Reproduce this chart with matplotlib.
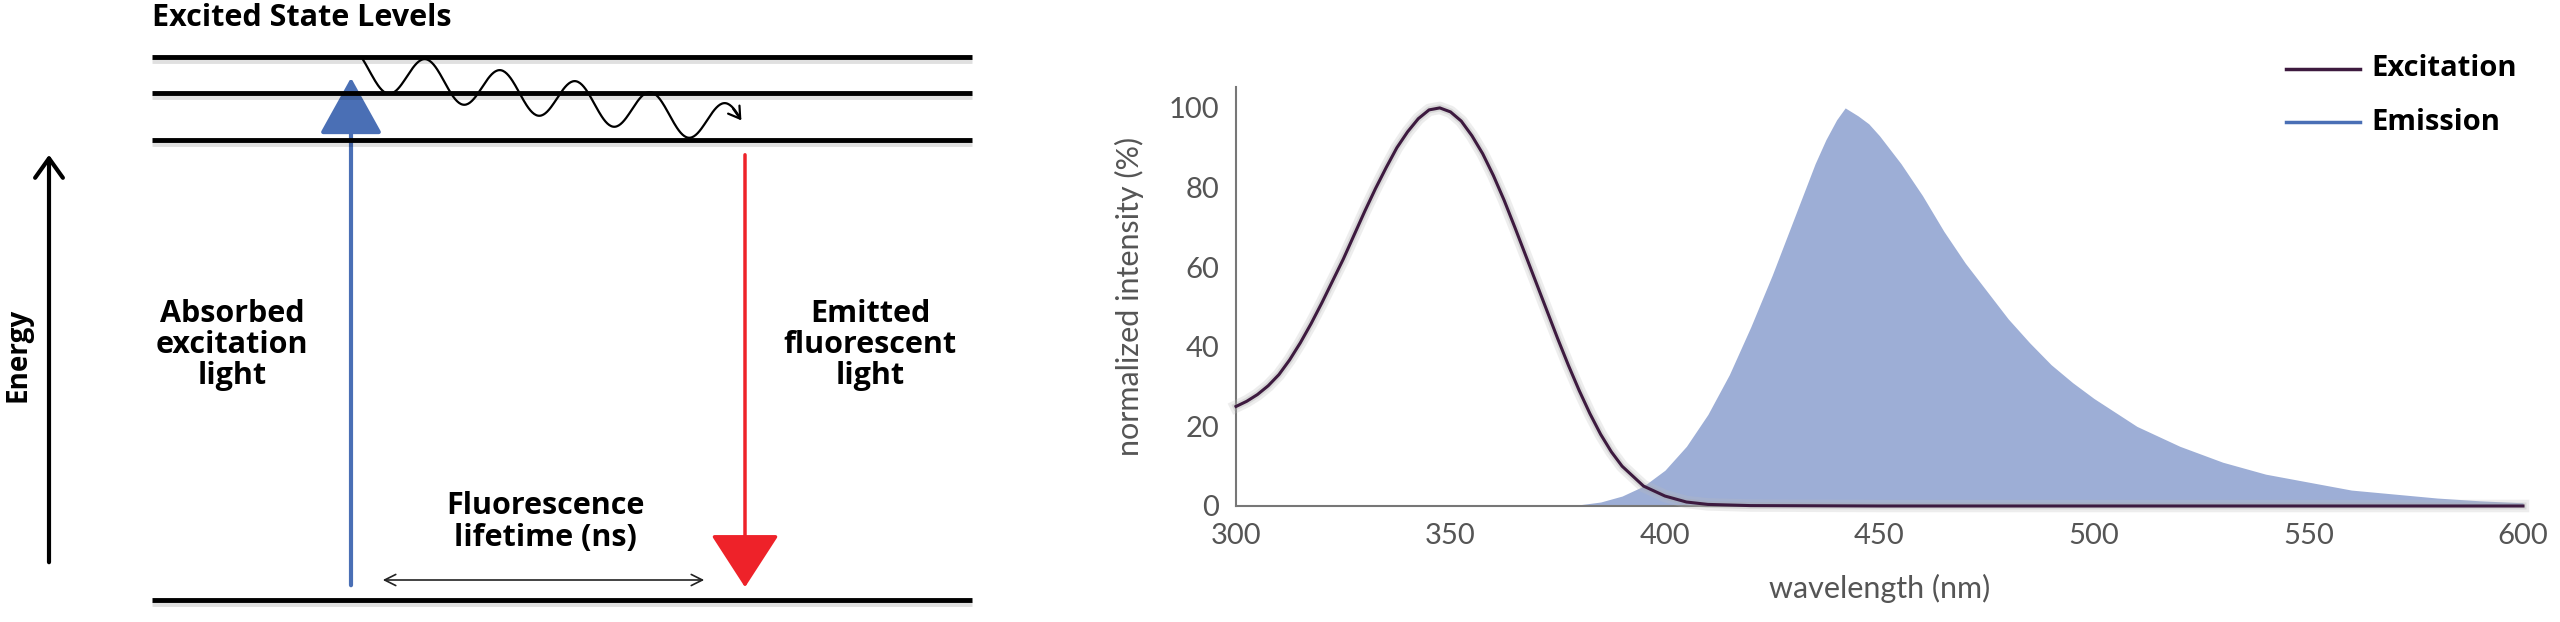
import matplotlib
matplotlib.use("Agg")
import matplotlib.pyplot as plt
import numpy as np
from matplotlib.patches import FancyArrowPatch
import matplotlib.patheffects as pe

ex_wl = [300,302.5,305,307.5,310,312.5,315,317.5,320,322.5,325,327.5,330,332.5,335,337.5,340,342.5,345,347.5,350,352.5,355,357.5,360,362.5,365,367.5,370,372.5,375,377.5,380,382.5,385,387.5,390,395,400,405,410,420,450,600]
ex_val = [25,26.3,28,30.2,33,36.7,41,45.8,51,56.5,62,68,74,79.7,85,90,94,97.3,99.5,100,99,96.7,93,88.5,83,76.8,70,63,56,49,42,35.3,29,23.2,18,13.6,10,5,2.5,1,0.4,0.1,0,0]
em_wl = [375,380,385,390,395,400,405,410,415,420,425,430,435,437.5,440,442,445,447.5,450,455,460,465,470,475,480,485,490,495,500,510,520,530,540,550,560,570,580,590,600]
em_val = [0,0.3,1,2.5,5,9,15,23,33,45,58,72,86,92,97,100,98,96,93,86,78,69,61,54,47,41,35.5,31,27,20,15,11,8,6,4,3,2,1.3,0.8]
xticks = [300,350,400,450,500,550,600]
yticks = [0,20,40,60,80,100]

W, H = 2560, 622
fig = plt.figure(figsize=(W/100, H/100), dpi=100)
BF = ['Open Sans', 'DejaVu Sans']

ad = fig.add_axes([0, 0, 1, 1])
ad.set_xlim(0, W); ad.set_ylim(H, 0); ad.axis('off')
shadow = [pe.SimpleLineShadow(offset=(0, -3), alpha=0.12, shadow_color='k'), pe.Normal()]
for y in [57, 93, 140, 600]:
    ad.plot([152, 972], [y, y], color='black', lw=3.5, solid_capstyle='butt', path_effects=shadow)
ad.text(152, 18, 'Excited State Levels', fontsize=22, fontweight='bold', family=BF, va='center', ha='left')
ad.add_patch(FancyArrowPatch((49, 565), (49, 152), arrowstyle='->,head_length=14,head_width=10', lw=3, color='black', mutation_scale=1))
ad.text(18, 355, 'Energy', rotation=90, fontsize=20, fontweight='bold', family=BF, va='center', ha='center')
ad.add_patch(FancyArrowPatch((351, 588), (351, 75), arrowstyle='-|>,head_length=36,head_width=20', lw=3, color='#4a6fb5', mutation_scale=1))
ad.add_patch(FancyArrowPatch((745, 152), (745, 590), arrowstyle='-|>,head_length=34,head_width=22', lw=2.5, color='#ee2229', mutation_scale=1))
ad.text(232, 345, 'Absorbed\nexcitation\nlight', fontsize=22, fontweight='bold', family=BF, ha='center', va='center', linespacing=1.05)
ad.text(870, 345, 'Emitted\nfluorescent\nlight', fontsize=22, fontweight='bold', family=BF, ha='center', va='center', linespacing=1.05)
ad.text(545, 522, 'Fluorescence\nlifetime (ns)', fontsize=22, fontweight='bold', family=BF, ha='center', va='center', linespacing=1.05)
ad.add_patch(FancyArrowPatch((380, 580), (707, 580), arrowstyle='<->,head_length=8,head_width=4', lw=1.2, color='#222222', mutation_scale=1))
t = np.linspace(0, 1, 400)
wx = 363 + 375 * t
wy = 70 + 55 * t - 20 * np.sin(2 * np.pi * 5.0 * t + 2.6)
ad.plot(wx, wy, color='black', lw=1.6)
ad.add_patch(FancyArrowPatch((wx[-8], wy[-8]), (wx[-1]+5, wy[-1]+8), arrowstyle='->,head_length=8,head_width=5', lw=1.6, color='black', mutation_scale=1))

x0, x1 = 1236, 2523
yb, yt = 506, 87
ax = fig.add_axes([x0/W, 1 - yb/H, (x1-x0)/W, (yb-yt)/H])
ax.patch.set_visible(False)
ax.set_xlim(300, 600)
ax.set_ylim(0, 100*(yb-65)/(yb-yt))
ax.fill_between(em_wl, em_val, color='#9daed6', lw=0, zorder=1)
glow = [pe.Stroke(linewidth=9, foreground='#bbbbbb', alpha=0.25), pe.Stroke(linewidth=5, foreground='#aaaaaa', alpha=0.3), pe.Normal()]
ax.plot(ex_wl, ex_val, color='#3d1a3f', lw=2.2, path_effects=glow, zorder=3, clip_on=False)
for s in ['top', 'right']:
    ax.spines[s].set_visible(False)
for s in ['left', 'bottom']:
    ax.spines[s].set_color('#777777'); ax.spines[s].set_linewidth(1.5)
ax.set_xticks(xticks); ax.set_yticks(yticks)
ax.tick_params(length=0, labelsize=21, colors='#555555', pad=12)
ax.set_xlabel('wavelength (nm)', fontsize=22, color='#555555', labelpad=18, family='Lato')
ax.set_ylabel('normalized intensity (%)', fontsize=22, color='#555555', labelpad=18, family='Lato')
for lab in ax.get_xticklabels() + ax.get_yticklabels():
    lab.set_family('Lato')

lg = fig.add_axes([0, 0, 1, 1]); lg.set_xlim(0, W); lg.set_ylim(H, 0); lg.axis('off')
lg.plot([2286, 2360], [69, 69], color='#3d1a3f', lw=2.5)
lg.plot([2286, 2360], [122, 122], color='#4a6fb5', lw=2.5)
lg.text(2371, 69, 'Excitation', fontsize=21, fontweight='bold', family=BF, va='center')
lg.text(2371, 122, 'Emission', fontsize=21, fontweight='bold', family=BF, va='center')

fig.savefig('out.png', dpi=100)
